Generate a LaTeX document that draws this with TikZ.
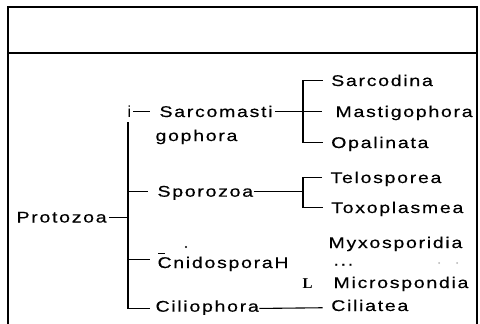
\documentclass[tikz,border=0pt]{standalone}
\usepackage{fontspec}
\setmainfont{Liberation Sans}
\newfontfamily\sperr[LetterSpace=11,FakeStretch=1.26,FakeBold=0.4]{Liberation Sans}
\newfontfamily\serifbold{Liberation Serif}
\begin{document}
\begin{tikzpicture}[x=1pt,y=-1pt,line width=1.1pt,
 lbl/.style={anchor=base west,inner sep=0pt,text height=10.5pt,text depth=0pt,font=\sperr\fontsize{15.5}{18}\selectfont}]
\useasboundingbox (0,0) rectangle (480,324);
% Rahmen
\draw[line width=1.8pt] (8,324) -- (8,7) -- (477,7) -- (477,324);
\draw[line width=1.4pt] (8,53) -- (477,53);
% Stamm
\node[lbl] (protozoa) at (16,222.5) {Protozoa};
\node[lbl,font=\fontsize{16}{18}\selectfont] (itop) at (127,117) {i};
\coordinate (ttop) at (128,122); \coordinate (b1) at (303,0);
% Klassen
\node[lbl] (sarco) at (159,117) {Sarcomasti};
\node[lbl] (goph) at (155,141) {gophora};
\node[lbl] (sporo) at (157,196.7) {Sporozoa};
\node[lbl] (cnido) at (157,268) {CnidosporaH};
\node[lbl] (cilio) at (155,311.7) {Ciliophora};
% Unterklassen
\node[lbl] (sarcod) at (330.7,86) {Sarcodina};
\node[lbl] (masti) at (335,117) {Mastigophora};
\node[lbl] (opal) at (330.7,148) {Opalinata};
\node[lbl] (telo) at (330,183) {Telosporea};
\node[lbl] (toxo) at (330.7,213) {Toxoplasmea};
\node[lbl] (myxo) at (328,248) {Myxosporidia};
\node[lbl] (punkte) at (333,265.5) {...};
\node[lbl] (micro) at (333,288) {Microspondia};
\node[lbl,font=\serifbold\bfseries\fontsize{15}{17}\selectfont] (ell) at (302,288.5) {L};
\node[lbl] (ciliat) at (330.7,311) {Ciliatea};
% Linien
\draw ([xshift=2pt]protozoa.east) -- ([xshift=-1pt]ttop |- protozoa.east);
\draw (ttop) |- ([xshift=-5pt,yshift=-2pt]cilio.west);
\draw ([xshift=1.5pt]itop.east) -- ([xshift=-9pt]sarco.west);
\draw (ttop |- sporo.west) -- ([xshift=-9pt]sporo.west);
\draw ([yshift=3pt]ttop |- cnido.west) -- ([xshift=-7pt,yshift=3pt]cnido.west);
\draw ([xshift=2pt]sarco.east) -- ([xshift=-13pt]masti.west);
\draw ([xshift=-8pt]sarcod.west) -- (b1 |- sarcod.west) -- (b1 |- opal.west) -- ([xshift=-8pt]opal.west);
\draw (sporo.east) -- (b1 |- sporo.west);
\draw ([xshift=-8pt]telo.west) -- (b1 |- telo.west) -- (b1 |- toxo.west) -- ([xshift=-8pt]toxo.west);
\draw ([yshift=-2pt]cilio.east) -- ([xshift=-8pt,yshift=-2pt]ciliat.west);
% Flecken
\draw[line width=0.9pt] (158,253) -- (165,253);
\fill (186,247) circle (1.2);
\fill[gray!60] (439,263) circle (1); \fill[gray!60] (457,263) circle (1);
\end{tikzpicture}
\end{document}
